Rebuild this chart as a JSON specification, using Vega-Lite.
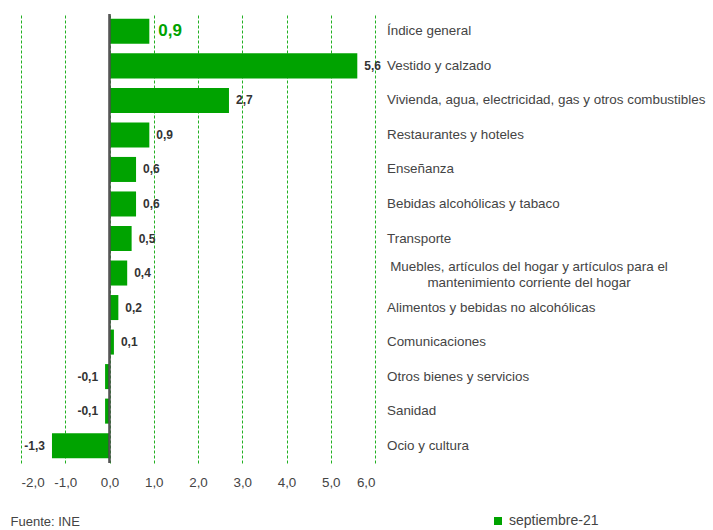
{
  "$schema": "https://vega.github.io/schema/vega-lite/v6.json",
  "autosize": "none",
  "width": 354,
  "height": 449,
  "padding": {"left": 21, "top": 14, "right": 338, "bottom": 67},
  "background": "white",
  "config": {
    "font": "Liberation Sans",
    "view": {"stroke": null},
    "locale": {"number": {"decimal": ",", "thousands": ".", "grouping": [3], "currency": ["", " €"], "minus": "-"}}
  },
  "data": {
    "values": [
      {"cat": "Índice general", "label": "Índice general", "value": 0.9, "main": true},
      {"cat": "Vestido y calzado", "label": "Vestido y calzado", "value": 5.6, "main": false},
      {"cat": "Vivienda", "label": "Vivienda, agua, electricidad, gas y otros combustibles", "value": 2.7, "main": false},
      {"cat": "Restaurantes y hoteles", "label": "Restaurantes y hoteles", "value": 0.9, "main": false},
      {"cat": "Enseñanza", "label": "Enseñanza", "value": 0.6, "main": false},
      {"cat": "Bebidas alcohólicas y tabaco", "label": "Bebidas alcohólicas y tabaco", "value": 0.6, "main": false},
      {"cat": "Transporte", "label": "Transporte", "value": 0.5, "main": false},
      {"cat": "Muebles", "label": "Muebles, artículos del hogar y artículos para el\nmantenimiento corriente del hogar", "value": 0.4, "main": false},
      {"cat": "Alimentos y bebidas no alcohólicas", "label": "Alimentos y bebidas no alcohólicas", "value": 0.2, "main": false},
      {"cat": "Comunicaciones", "label": "Comunicaciones", "value": 0.1, "main": false},
      {"cat": "Otros bienes y servicios", "label": "Otros bienes y servicios", "value": -0.1, "main": false},
      {"cat": "Sanidad", "label": "Sanidad", "value": -0.1, "main": false},
      {"cat": "Ocio y cultura", "label": "Ocio y cultura", "value": -1.3, "main": false}
    ]
  },
  "encoding": {
    "y": {
      "field": "cat", "type": "nominal", "sort": null, "axis": null,
      "scale": {"paddingInner": 0.275, "paddingOuter": 0.14}
    }
  },
  "layer": [
    {
      "mark": {"type": "bar"},
      "encoding": {
        "x": {
          "field": "value", "type": "quantitative",
          "scale": {"domain": [-2, 6], "nice": false, "zero": false},
          "axis": {
            "values": [-2, -1, 0, 1, 2, 3, 4, 5, 6],
            "format": ".1f",
            "title": "Fuente: INE",
            "titleAnchor": "start",
            "titleAlign": "left",
            "titleBaseline": "top",
            "titleX": -11,
            "titleY": 52,
            "titleFontSize": 13,
            "titleFontWeight": "normal",
            "titleColor": "#444",
            "titleFont": "Liberation Sans",
            "domain": false,
            "ticks": false,
            "labelPadding": 12,
            "labelFontSize": 13.4,
            "labelColor": "#444",
            "labelFont": "Liberation Sans",
            "grid": true,
            "gridColor": "#22b022",
            "gridDash": [3, 2],
            "gridWidth": 1
          }
        },
        "x2": {"datum": 0},
        "color": {
          "datum": "septiembre-21",
          "scale": {"range": ["#00a300"]},
          "legend": {
            "orient": "none", "legendX": 470, "legendY": 500, "title": null,
            "symbolType": "square", "symbolSize": 64, "labelFontSize": 14,
            "labelColor": "#444", "labelOffset": 4, "labelFont": "Liberation Sans"
          }
        }
      }
    },
    {
      "mark": {"type": "rule", "color": "#555", "strokeWidth": 1.2},
      "encoding": {"x": {"datum": 0}, "y": {"value": 0}, "y2": {"value": 449}}
    },
    {
      "transform": [{"filter": "datum.value > 0 && !datum.main"}],
      "mark": {"type": "text", "align": "left", "baseline": "middle", "dx": 7, "fontWeight": "bold", "fontSize": 12, "color": "#333"},
      "encoding": {"x": {"field": "value", "type": "quantitative"}, "text": {"field": "value", "type": "quantitative", "format": ".1f"}}
    },
    {
      "transform": [{"filter": "datum.value < 0"}],
      "mark": {"type": "text", "align": "right", "baseline": "middle", "dx": -7, "fontWeight": "bold", "fontSize": 12, "color": "#333"},
      "encoding": {"x": {"field": "value", "type": "quantitative"}, "text": {"field": "value", "type": "quantitative", "format": ".1f"}}
    },
    {
      "transform": [{"filter": "datum.main"}],
      "mark": {"type": "text", "align": "left", "baseline": "middle", "dx": 9, "fontWeight": "bold", "fontSize": 17, "color": "#00a300"},
      "encoding": {"x": {"field": "value", "type": "quantitative"}, "text": {"field": "value", "type": "quantitative", "format": ".1f"}}
    },
    {
      "transform": [{"filter": "datum.cat != 'Muebles'"}],
      "mark": {"type": "text", "align": "left", "baseline": "middle", "dx": 12, "fontSize": 13.4, "color": "#444"},
      "encoding": {"x": {"datum": 6}, "text": {"field": "label"}}
    },
    {
      "transform": [{"filter": "datum.cat == 'Muebles'"}],
      "mark": {"type": "text", "align": "center", "baseline": "middle", "dx": 154, "dy": -6, "fontSize": 13.4, "color": "#444", "lineBreak": "\n", "lineHeight": 16},
      "encoding": {"x": {"datum": 6}, "text": {"field": "label"}}
    }
  ]
}
